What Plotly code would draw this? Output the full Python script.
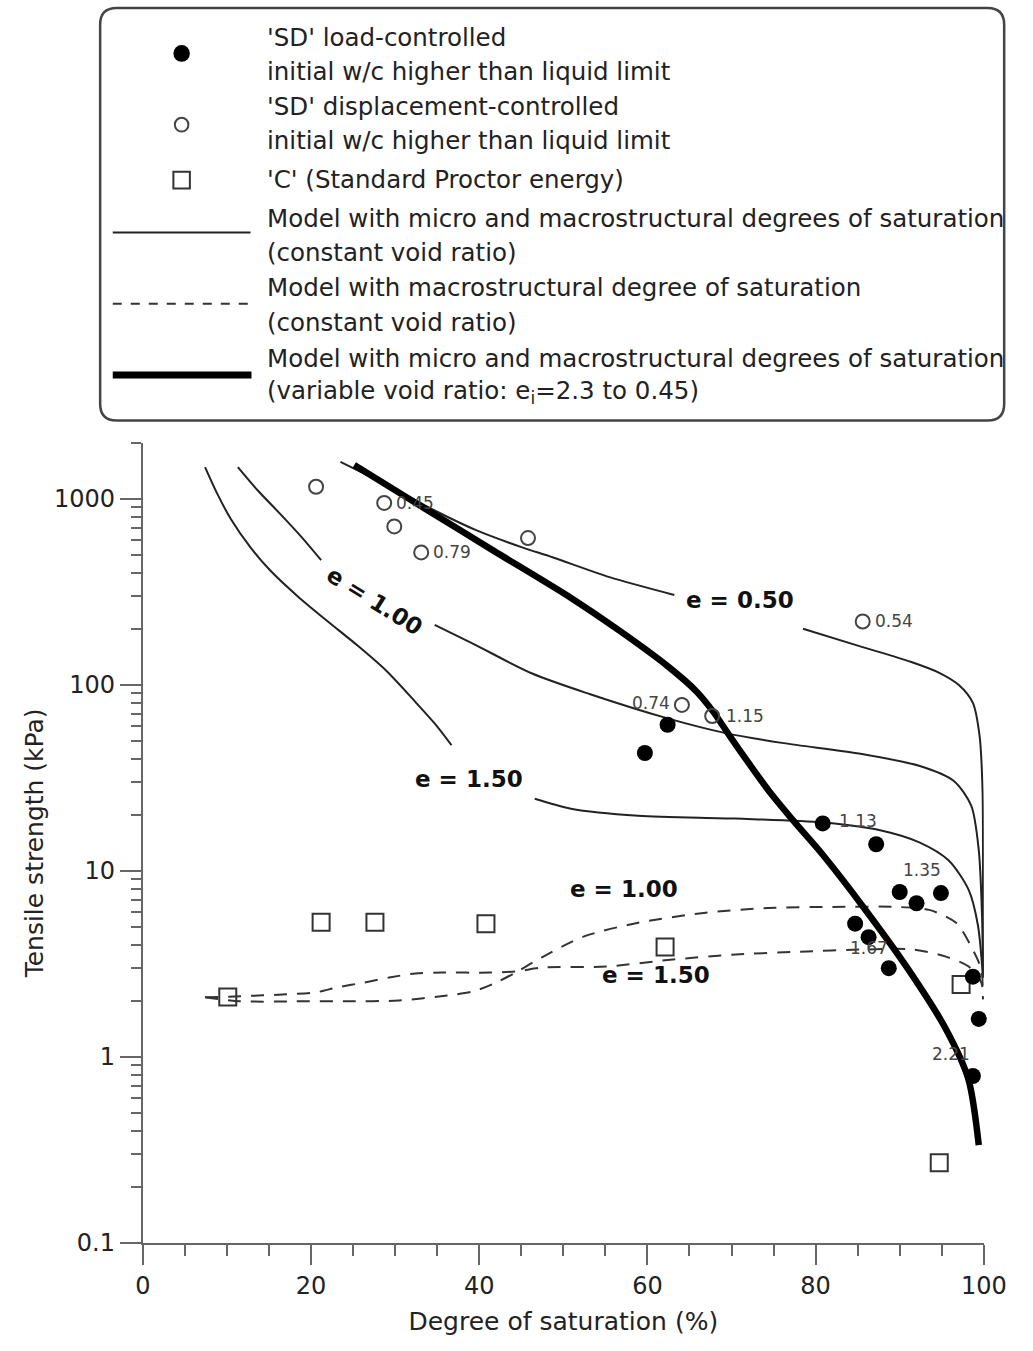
import math
import plotly.graph_objects as go

W, H = 1033, 1351
FONT = "DejaVu Sans"

# ---------------- measured data ----------------
# 'SD' load-controlled (filled circles)
sd_load_S = [59.7, 62.4, 80.85, 87.2, 90.0, 92.0, 94.9, 84.7, 86.3, 88.7, 98.7, 99.4, 98.7]
sd_load_T = [43, 61, 18.0, 13.9, 7.7, 6.7, 7.6, 5.2, 4.4, 3.0, 2.7, 1.6, 0.79]

# 'SD' displacement-controlled (open circles)
sd_disp_S = [20.6, 28.7, 29.9, 33.1, 45.8, 64.1, 67.7, 85.6]
sd_disp_T = [1160, 950, 710, 515, 615, 78, 68, 219]

# 'C' standard Proctor energy (open squares)
proctor_S = [10.1, 21.2, 27.6, 40.8, 62.1, 97.3, 94.7]
proctor_T = [2.1, 5.3, 5.3, 5.2, 3.9, 2.45, 0.27]

# void-ratio labels attached to some points
point_labels_S = [28.7, 33.1, 85.6, 64.1, 67.7, 80.85, 94.9, 86.3, 98.7]
point_labels_T = [950, 515, 219, 78, 68, 18.0, 7.6, 4.4, 0.79]
point_labels_txt = ["0.45", "0.79", "0.54", "0.74", "1.15", "1.13", "1.35", "1.67", "2.21"]

# Model: micro + macro degrees of saturation, constant void ratio (None = gap for label)
m_e050_S = [23.5, 30.1, 34.7, 39.7, 45.1, 48.7, 55.5, 63.2, None,
            78.5, 85.5, 91.3, 94.7, 97.0, 98.7, 99.5, 99.85, 99.9, 99.9]
m_e050_T = [1580, 1120, 865, 676, 548, 485, 379, 304, None,
            200, 160, 133, 116, 100, 80, 53, 27, 7.9, 2.67]

m_e100_S = [11.3, 13.7, 16.3, 18.8, 21.2, None, 34.7, 39.3, 46.3, 53.2,
            62.4, 69.3, 76.2, 85.5, 92.4, 96.4, 98.5, 99.4, 99.8, 99.9]
m_e100_T = [1480, 1104, 832, 628, 468, None, 210, 166, 115, 89,
            66, 55, 48.6, 42.5, 36.6, 30.5, 22.4, 12.9, 5.5, 2.8]

m_e150_S = [7.4, 8.8, 10.5, 12.8, 15.1, 18.6, 22.0, 25.5, 28.95, 32.4, 34.7, 36.7,
            None, 46.6, 50.9, 58.9, 70.5, 80.9, 87.8, 92.4, 95.8, 98.2, 99.3, 99.9]
m_e150_T = [1480, 1076, 773, 548, 414, 294, 219, 163, 119, 81, 62, 47.4,
            None, 24.4, 21.6, 19.8, 19.1, 18.2, 16.5, 14.2, 11.4, 7.9, 5.1, 2.67]

# Model: macrostructural degree of saturation, constant void ratio
mac_e100_S = [7.4, 11.6, 18.2, 24.3, 30.4, 36.2, 39.3, 42.0, 44.3, 47.4, 52.4,
              58.9, 66.7, 74.3, 82.0, 89.7, 93.5, 96.7, 98.5, 99.7, 99.9]
mac_e100_T = [2.09, 1.99, 1.99, 1.99, 2.01, 2.14, 2.25, 2.51, 2.84, 3.42, 4.43,
              5.26, 5.94, 6.32, 6.40, 6.40, 6.17, 5.26, 3.92, 2.95, 2.04]

mac_e150_S = [7.4, 11.6, 17.1, 20.5, 23.2, 26.3, 29.3, 32.4, 35.5, 41.3, 44.3,
              47.8, 55.1, 62.7, 70.5, 78.2, 85.8, 91.6, 95.5, 98.2, 99.7, 99.9]
mac_e150_T = [2.09, 2.12, 2.17, 2.22, 2.37, 2.51, 2.67, 2.81, 2.84, 2.84, 2.88,
              3.03, 3.06, 3.33, 3.55, 3.68, 3.78, 3.78, 3.46, 3.06, 2.51, 2.04]

# Model: micro + macro, variable void ratio (ei = 2.3 to 0.45)
var_S = [25.14, 33.56, 41.64, 50.87, 56.63, 62.4, 65.86, 67.82, 69.9, 72.2, 74.5,
         77.4, 80.85, 85.8, 90.9, 95.5, 98.15, 99.4]
var_T = [1517, 885, 528, 294, 196, 126, 91.9, 71.8, 52.2, 37.1, 26.7,
         18.5, 12.2, 6.28, 3.01, 1.41, 0.764, 0.336]

# curve labels
curve_lbl_S = [71.05, 27.6, 38.75, 57.2, 61.0]
curve_lbl_T = [286, 283, 31.3, 8.0, 2.76]
curve_lbl_txt = ["e = 0.50", "e = 1.00", "e = 1.50", "e = 1.00", "e = 1.50"]
curve_lbl_ang = [0, 32, 0, 0, 0]

# axis ticks
x_major = [0, 20, 40, 60, 80, 100]
x_minor = [5, 10, 15, 25, 30, 35, 45, 50, 55, 65, 70, 75, 85, 90, 95]
y_major = [0.1, 1, 10, 100, 1000]
y_major_txt = ["0.1", "1", "10", "100", "1000"]
y_minor = [m * 10 ** d for d in range(-1, 3) for m in range(2, 10)] + [2000]

# legend entries (text, vertical centre in px from the top)
legend_lines = [
    ("'SD' load-controlled", 38),
    ("initial w/c higher than liquid limit", 72),
    ("'SD' displacement-controlled", 108),
    ("initial w/c higher than liquid limit", 142),
    ("'C' (Standard Proctor energy)", 181),
    ("Model with micro and macrostructural degrees of saturation", 221),
    ("(constant void ratio)", 255),
    ("Model with macrostructural degree of saturation", 291),
    ("(constant void ratio)", 326),
    ("Model with micro and macrostructural degrees of saturation", 362),
    ("(variable void ratio: e<sub>i</sub>=2.3 to 0.45)", 396),
]

# ---------------- figure ----------------
fig = go.Figure()

LINE_C = "#222222"
DASH = "13px,10px"


def curve(S, T, width=2, dash=None, color=LINE_C):
    fig.add_trace(go.Scatter(
        x=S, y=T, mode="lines",
        line=dict(color=color, width=width, dash=dash, shape="spline", smoothing=0.8),
        connectgaps=False, hoverinfo="skip"))


curve(m_e050_S, m_e050_T)
curve(m_e100_S, m_e100_T)
curve(m_e150_S, m_e150_T)
curve(mac_e100_S, mac_e100_T, dash=DASH, color="#333333")
curve(mac_e150_S, mac_e150_T, dash=DASH, color="#333333")
curve(var_S, var_T, width=6.5, color="#000000")

fig.add_trace(go.Scatter(
    x=proctor_S, y=proctor_T, mode="markers", cliponaxis=False,
    marker=dict(symbol="square-open", size=17, color="#333333", line=dict(width=2))))
fig.add_trace(go.Scatter(
    x=sd_disp_S, y=sd_disp_T, mode="markers", cliponaxis=False,
    marker=dict(symbol="circle-open", size=14, color="#444444", line=dict(width=2))))
fig.add_trace(go.Scatter(
    x=sd_load_S, y=sd_load_T, mode="markers", cliponaxis=False,
    marker=dict(symbol="circle", size=16, color="#000000")))

annotations = []

# point labels (void ratio) placed beside their markers
label_offsets = {
    "0.45": ("left", 10, 0), "0.79": ("left", 10, 0), "0.54": ("left", 10, 0),
    "0.74": ("right", -10, 2), "1.15": ("left", 12, 0), "1.13": ("left", 14, 2),
    "1.35": ("center", -19, 23), "1.67": ("center", 0, -11), "2.21": ("center", -22, 22),
}
for s, t, txt in zip(point_labels_S, point_labels_T, point_labels_txt):
    anc, dx, dy = label_offsets[txt]
    annotations.append(dict(
        x=s, y=math.log10(t), xref="x", yref="y", text=txt, showarrow=False,
        xanchor=anc, yanchor="middle", xshift=dx, yshift=dy,
        font=dict(family=FONT, size=17, color="#444444")))

for s, t, txt, ang in zip(curve_lbl_S, curve_lbl_T, curve_lbl_txt, curve_lbl_ang):
    annotations.append(dict(
        x=s, y=math.log10(t), xref="x", yref="y", text="<b>" + txt + "</b>",
        showarrow=False, textangle=ang, xanchor="center", yanchor="middle",
        font=dict(family=FONT, size=23, color="#111111")))

# ---------------- legend panel (drawn in page pixels) ----------------
def px(x):
    return x / W


def py(y):
    return 1 - y / H


shapes = []

r = 17
x0, x1, y0, y1 = 95, 1027, 8, 425
box_path = (f"M {px(x0 + r)} {py(y0)} L {px(x1 - r)} {py(y0)} "
            f"Q {px(x1)} {py(y0)} {px(x1)} {py(y0 + r)} "
            f"L {px(x1)} {py(y1 - r)} Q {px(x1)} {py(y1)} {px(x1 - r)} {py(y1)} "
            f"L {px(x0 + r)} {py(y1)} Q {px(x0)} {py(y1)} {px(x0)} {py(y1 - r)} "
            f"L {px(x0)} {py(y0 + r)} Q {px(x0)} {py(y0)} {px(x0 + r)} {py(y0)} Z")
shapes.append(dict(type="path", path=box_path, xref="paper", yref="paper",
                   line=dict(color="#444444", width=2.5), fillcolor="rgba(0,0,0,0)"))

# sample symbols
cx = 179
shapes.append(dict(type="circle", xref="paper", yref="paper",
                   x0=px(cx - 8.5), x1=px(cx + 8.5), y0=py(54 + 8.5), y1=py(54 - 8.5),
                   fillcolor="#000000", line=dict(width=0)))
shapes.append(dict(type="circle", xref="paper", yref="paper",
                   x0=px(cx - 7), x1=px(cx + 7), y0=py(126 + 7), y1=py(126 - 7),
                   fillcolor="rgba(0,0,0,0)", line=dict(color="#444444", width=2)))
shapes.append(dict(type="rect", xref="paper", yref="paper",
                   x0=px(cx - 8.5), x1=px(cx + 8.5), y0=py(182 + 8.5), y1=py(182 - 8.5),
                   fillcolor="rgba(0,0,0,0)", line=dict(color="#333333", width=2)))
# sample lines
shapes.append(dict(type="line", xref="paper", yref="paper",
                   x0=px(108), x1=px(250), y0=py(235), y1=py(235),
                   line=dict(color=LINE_C, width=2)))
shapes.append(dict(type="line", xref="paper", yref="paper",
                   x0=px(108), x1=px(250), y0=py(307), y1=py(307),
                   line=dict(color="#333333", width=2, dash="9px,9px")))
shapes.append(dict(type="line", xref="paper", yref="paper",
                   x0=px(108), x1=px(251), y0=py(379), y1=py(379),
                   line=dict(color="#000000", width=7)))

for txt, yc in legend_lines:
    annotations.append(dict(
        x=px(265), y=py(yc), xref="paper", yref="paper", text=txt, showarrow=False,
        xanchor="left", yanchor="middle",
        font=dict(family=FONT, size=24.5, color="#222222")))

axis_style = dict(showgrid=False, zeroline=False, showline=True,
                  linecolor="#666666", linewidth=2, ticks="outside",
                  tickcolor="#666666", tickwidth=1.5,
                  tickfont=dict(family=FONT, size=24, color="#222222"))

fig.update_layout(
    width=W, height=H,
    margin=dict(l=0, r=0, t=0, b=0),
    paper_bgcolor="white", plot_bgcolor="rgba(0,0,0,0)",
    showlegend=False,
    xaxis=dict(domain=[139 / W, 1006 / W], range=[0, 100],
               tickmode="array", tickvals=x_major, ticklen=20,
               minor=dict(ticks="outside", tickmode="array", tickvals=x_minor,
                          ticklen=11, tickcolor="#666666", tickwidth=1.5, showgrid=False),
               title=dict(text="Degree of saturation (%)", standoff=14,
                          font=dict(family=FONT, size=25, color="#222222")),
               **axis_style),
    yaxis=dict(domain=[1 - 1256 / H, 1 - 447.4 / H], type="log",
               range=[-1, math.log10(2000)],
               tickmode="array", tickvals=y_major, ticktext=y_major_txt, ticklen=21,
               minor=dict(ticks="outside", tickmode="array", tickvals=y_minor,
                          ticklen=10, tickcolor="#666666", tickwidth=1.5, showgrid=False),
               title=dict(text="Tensile strength (kPa)", standoff=3,
                          font=dict(family=FONT, size=25, color="#222222")),
               **axis_style),
    shapes=shapes,
    annotations=annotations,
)

fig.write_html("out.html")
